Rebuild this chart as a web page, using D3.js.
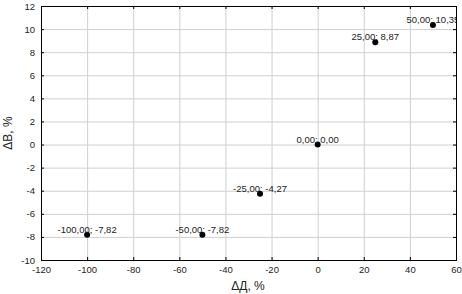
<!DOCTYPE html>
<html lang="ru">
<head>
  <meta charset="UTF-8">
  <title>ΔB vs ΔД</title>
  <script src="https://d3js.org/d3.v7.min.js"></script>
  <style>
    body { margin: 0; background: #fff; font-family: Arial, "Liberation Sans", sans-serif; }
    svg { display: block; }
    .grid line { stroke: #cfcfcf; stroke-width: 1; }
    .tick text { font-size: 9.5px; fill: #222; }
  </style>
</head>
<body>
  <svg id="chart" width="462" height="294"></svg>
  <script>
    // data
    const dX = [-100, -50, -25, 0, 25, 50];
    const dY = [-7.82, -7.82, -4.27, 0, 8.87, 10.35];
    const xTicks = [-120, -100, -80, -60, -40, -20, 0, 20, 40, 60];
    const yTicks = [-10, -8, -6, -4, -2, 0, 2, 4, 6, 8, 10, 12];

    const svg = d3.select("#chart");
    const m = { left: 41, top: 6, right: 456, bottom: 260 };

    const x = d3.scaleLinear().domain([-120, 60]).range([m.left, m.right]);
    const y = d3.scaleLinear().domain([-10, 12]).range([m.bottom, m.top]);

    const fmt = v => d3.format(".2f")(v).replace(".", ",").replace("−", "-");

    // grid
    const grid = svg.append("g").attr("class", "grid");
    grid.selectAll(".gx").data(xTicks).enter().append("line")
      .attr("x1", d => x(d) + 0.5).attr("x2", d => x(d) + 0.5)
      .attr("y1", m.top).attr("y2", m.bottom);
    grid.selectAll(".gy").data(yTicks).enter().append("line")
      .attr("y1", d => y(d) + 0.5).attr("y2", d => y(d) + 0.5)
      .attr("x1", m.left).attr("x2", m.right);

    // axes
    const fmtTick = d => String(d).replace("−", "-");
    svg.append("g").attr("transform", `translate(0,${m.bottom})`)
      .call(d3.axisBottom(x).tickValues(xTicks).tickSize(-3).tickPadding(6).tickFormat(fmtTick))
      .call(g => g.select(".domain").remove());
    svg.append("g").attr("transform", `translate(0,${m.top})`)
      .call(d3.axisTop(x).tickValues(xTicks).tickSize(-3).tickFormat(""))
      .call(g => g.select(".domain").remove());
    svg.append("g").attr("transform", `translate(${m.left},0)`)
      .call(d3.axisLeft(y).tickValues(yTicks).tickSize(-3).tickPadding(6).tickFormat(fmtTick))
      .call(g => g.select(".domain").remove());
    svg.append("g").attr("transform", `translate(${m.right},0)`)
      .call(d3.axisRight(y).tickValues(yTicks).tickSize(-3).tickFormat(""))
      .call(g => g.select(".domain").remove());

    svg.append("rect")
      .attr("x", m.left + 0.5).attr("y", m.top + 0.5)
      .attr("width", m.right - m.left).attr("height", m.bottom - m.top)
      .attr("fill", "none").attr("stroke", "#000").attr("stroke-width", 1);

    // clip
    svg.append("clipPath").attr("id", "clip").append("rect")
      .attr("x", m.left).attr("y", m.top)
      .attr("width", m.right - m.left).attr("height", m.bottom - m.top);

    const pts = svg.append("g").attr("clip-path", "url(#clip)");
    const data = dX.map((v, i) => ({ x: v, y: dY[i] }));

    pts.selectAll("circle").data(data).enter().append("circle")
      .attr("cx", d => x(d.x)).attr("cy", d => y(d.y))
      .attr("r", 3).attr("fill", "#000");

    pts.selectAll("text").data(data).enter().append("text")
      .attr("x", d => x(d.x)).attr("y", d => y(d.y) - 2)
      .attr("text-anchor", "middle")
      .attr("font-size", 9.5).attr("fill", "#222")
      .text(d => fmt(d.x) + "; " + fmt(d.y));

    // titles
    svg.append("text").attr("x", 248).attr("y", 290)
      .attr("text-anchor", "middle").attr("font-size", 12).attr("fill", "#222")
      .text("ΔД, %");
    svg.append("text").attr("transform", "translate(12,133) rotate(-90)")
      .attr("text-anchor", "middle").attr("font-size", 12).attr("fill", "#222")
      .text("ΔB, %");
  </script>
</body>
</html>
